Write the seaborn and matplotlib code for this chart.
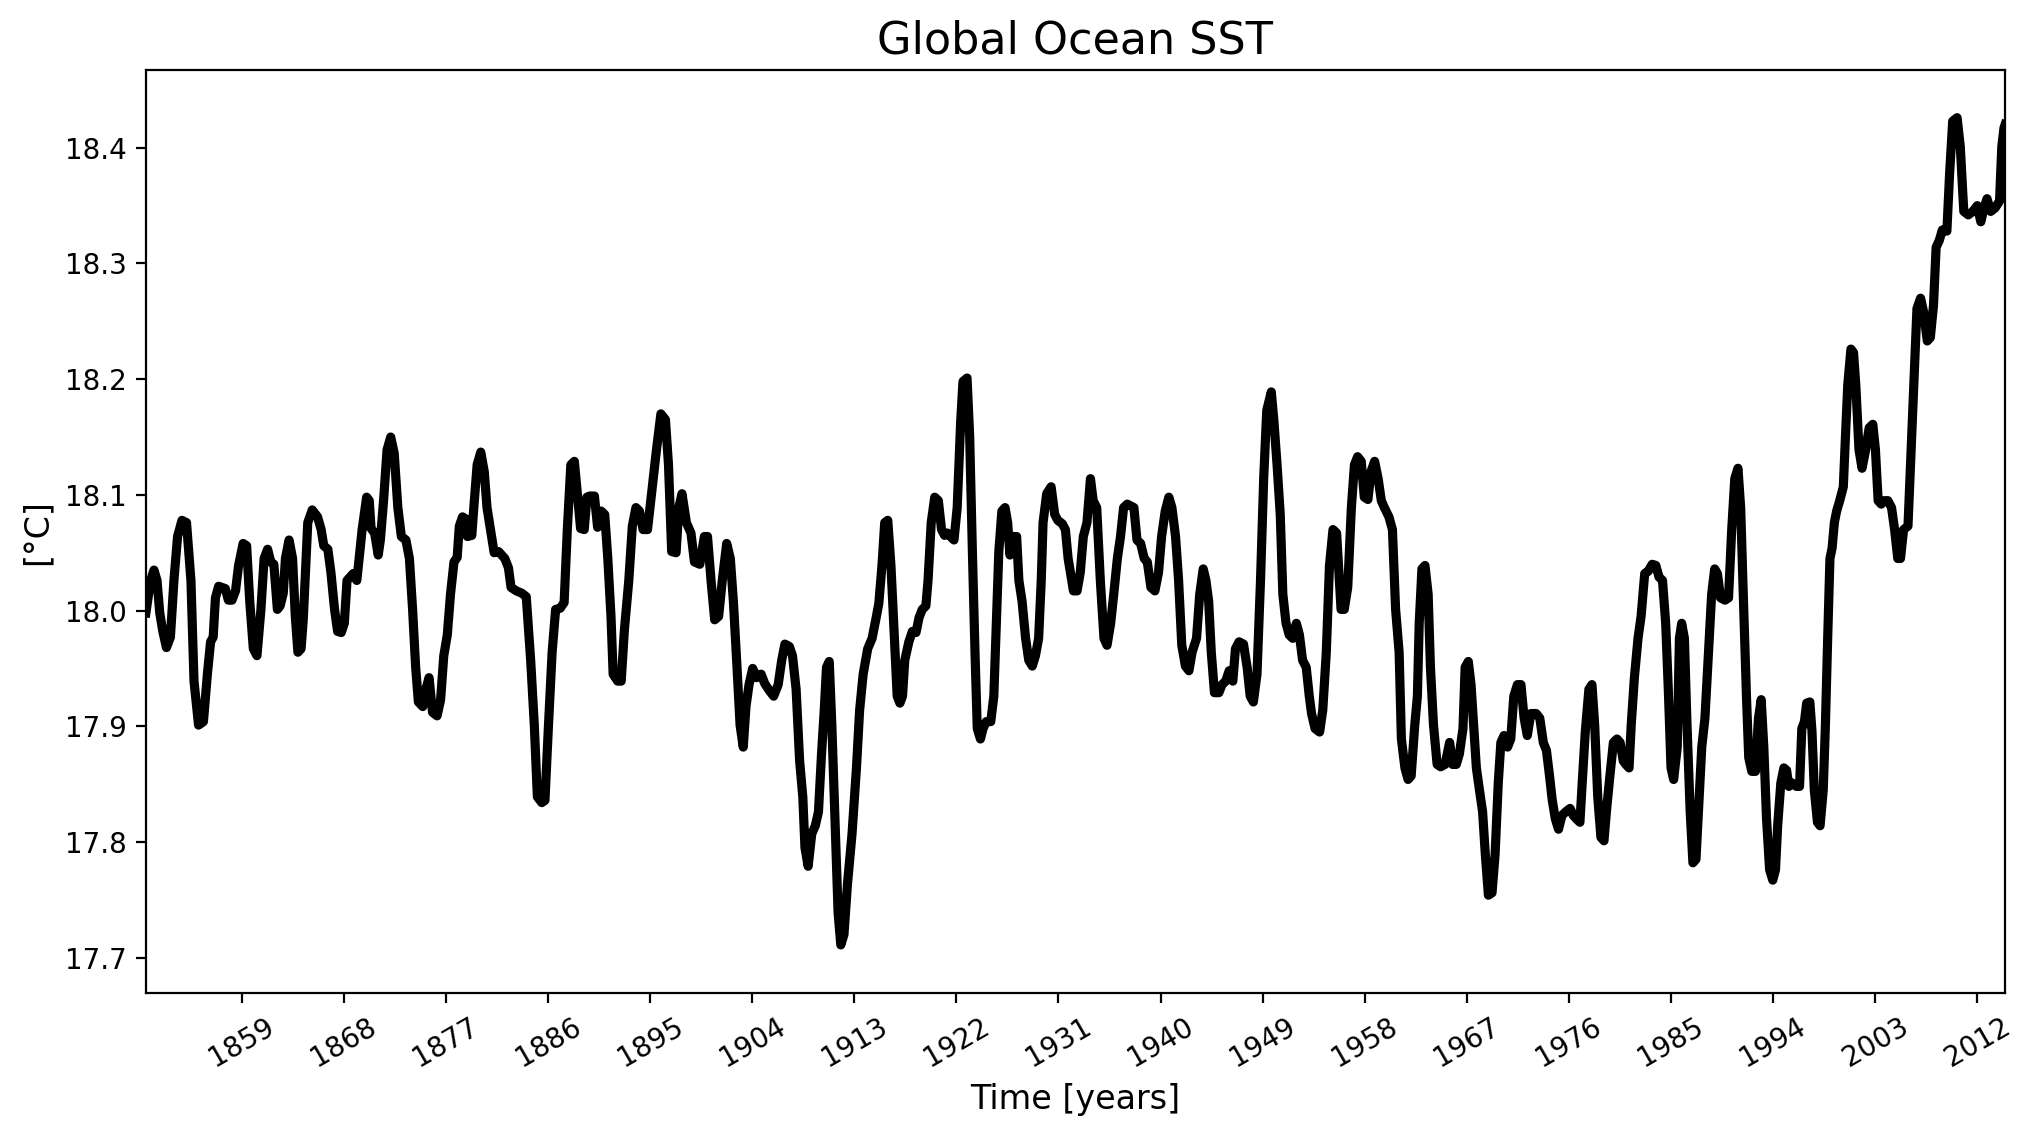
import numpy as np
import pandas as pd
import seaborn as sns
import matplotlib
matplotlib.use("Agg")
import matplotlib.pyplot as plt

# values (12-month smoothed global mean SST)
years_1850 = [1850.55, 1850.94, 1851.26, 1851.53, 1851.77, 1852.04, 1852.36, 1852.71, 1853.02, 1853.34,
              1853.73, 1854.13, 1854.52, 1854.79, 1855.19, 1855.62, 1855.97, 1856.25, 1856.48, 1856.68,
              1856.96, 1857.55, 1857.82, 1858.14, 1858.45, 1858.72, 1859.12, 1859.43, 1859.71, 1860.02,
              1860.34, 1860.69, 1860.97, 1861.28, 1861.56, 1861.83, 1862.14, 1862.38, 1862.66, 1862.85,
              1863.17, 1863.48, 1863.72, 1863.95, 1864.23, 1864.42, 1864.82, 1865.21, 1865.68, 1866.0,
              1866.23, 1866.59, 1866.86, 1867.18, 1867.45, 1867.77, 1868.04, 1868.28, 1868.55, 1868.83,
              1869.14, 1869.38, 1869.61, 1870.01, 1870.24, 1870.4, 1870.71, 1871.03, 1871.22, 1871.5,
              1871.81, 1872.13, 1872.44, 1872.76, 1873.07, 1873.47, 1873.78, 1874.06, 1874.33, 1874.57,
              1874.96, 1875.23, 1875.51, 1875.82, 1876.22, 1876.53, 1876.81, 1877.12, 1877.4, 1877.71,
              1877.99, 1878.18, 1878.46, 1878.77, 1878.89, 1879.28, 1879.48, 1879.75, 1880.07, 1880.38,
              1880.62, 1880.93, 1881.25, 1881.64, 1881.92, 1882.19, 1882.51, 1882.74, 1883.21, 1883.69,
              1884.08, 1884.47, 1884.79, 1885.06, 1885.45, 1885.73, 1886.04, 1886.36, 1886.67, 1887.07,
              1887.42, 1887.7, 1888.01, 1888.32, 1888.64, 1888.87, 1889.19, 1889.43, 1889.66, 1890.09,
              1890.37, 1890.68, 1891.0, 1891.27, 1891.55, 1891.74, 1892.14, 1892.45, 1892.73, 1893.12,
              1893.43, 1893.75, 1894.06, 1894.38, 1894.77]
sst_1850 = [17.998, 18.025, 18.035, 18.026, 17.998, 17.982, 17.968, 17.977, 18.026, 18.064,
            18.078, 18.076, 18.026, 17.939, 17.901, 17.904, 17.945, 17.973, 17.977, 18.011,
            18.021, 18.019, 18.009, 18.009, 18.017, 18.039, 18.058, 18.056, 18.007, 17.967,
            17.961, 18.001, 18.045, 18.053, 18.042, 18.040, 18.001, 18.004, 18.015, 18.045,
            18.061, 18.045, 17.995, 17.964, 17.967, 17.992, 18.076, 18.087, 18.081, 18.070,
            18.056, 18.053, 18.033, 18.001, 17.982, 17.981, 17.989, 18.026, 18.029, 18.032,
            18.026, 18.048, 18.070, 18.098, 18.095, 18.071, 18.067, 18.048, 18.061, 18.095,
            18.139, 18.150, 18.136, 18.089, 18.064, 18.061, 18.045, 18.001, 17.951, 17.921,
            17.917, 17.932, 17.942, 17.912, 17.909, 17.923, 17.961, 17.979, 18.014, 18.042,
            18.046, 18.073, 18.081, 18.079, 18.064, 18.065, 18.092, 18.126, 18.137, 18.120,
            18.089, 18.070, 18.050, 18.051, 18.048, 18.045, 18.037, 18.020, 18.017, 18.015,
            18.012, 17.957, 17.901, 17.839, 17.834, 17.836, 17.901, 17.964, 18.001, 18.002,
            18.007, 18.070, 18.126, 18.129, 18.095, 18.071, 18.070, 18.098, 18.099, 18.099,
            18.072, 18.086, 18.083, 18.045, 17.995, 17.945, 17.939, 17.939, 17.983, 18.026,
            18.073, 18.089, 18.086, 18.070, 18.070]

years_1895 = [1895.56, 1895.95, 1896.35, 1896.62, 1896.9, 1897.29, 1897.53, 1897.81, 1898.2, 1898.6,
              1898.91, 1899.38, 1899.78, 1900.06, 1900.37, 1900.69, 1901.04, 1901.36, 1901.75, 1902.07,
              1902.34, 1902.66, 1902.93, 1903.21, 1903.45, 1903.72, 1904.04, 1904.39, 1904.79, 1905.1,
              1905.5, 1905.89, 1906.29, 1906.6, 1906.88, 1907.27, 1907.55, 1907.87, 1908.18, 1908.46,
              1908.65, 1908.93, 1909.25, 1909.56, 1909.84, 1910.11, 1910.35, 1910.55, 1910.79, 1911.02,
              1911.34, 1911.57, 1911.81, 1912.09, 1912.4, 1912.8, 1913.19, 1913.47, 1913.78, 1914.18,
              1914.57, 1914.89, 1915.16, 1915.44, 1915.68, 1915.95, 1916.23, 1916.54, 1916.78, 1917.02,
              1917.25, 1917.45, 1917.81, 1918.12, 1918.44, 1918.71, 1918.99, 1919.31, 1919.5, 1919.78,
              1920.09, 1920.41, 1920.69, 1920.96, 1921.2, 1921.48, 1921.79, 1922.07, 1922.38, 1922.58,
              1922.94, 1923.17, 1923.41, 1923.64, 1923.84, 1924.12, 1924.35, 1924.63, 1925.03, 1925.3,
              1925.54, 1925.74, 1926.01, 1926.29, 1926.52, 1926.72, 1927.0, 1927.31, 1927.51, 1927.79,
              1928.1, 1928.38, 1928.69, 1928.97, 1929.25, 1929.48, 1929.64, 1929.96, 1930.35, 1930.67,
              1930.94, 1931.34, 1931.61, 1931.85, 1932.05, 1932.32, 1932.64, 1932.92, 1933.19, 1933.51,
              1933.82, 1934.06, 1934.37, 1934.69, 1935.01, 1935.28, 1935.6, 1935.87, 1936.19, 1936.47,
              1936.74, 1937.06, 1937.65, 1937.92, 1938.24, 1938.56, 1938.83, 1939.15, 1939.5, 1939.82,
              1940.09, 1940.41, 1940.73, 1941.0, 1941.32, 1941.59, 1941.87, 1942.19, 1942.5, 1942.78,
              1943.17, 1943.45, 1943.76, 1944.0, 1944.24, 1944.47, 1944.75, 1945.14, 1945.42, 1945.74,
              1946.05, 1946.37, 1946.6, 1946.92, 1947.31, 1947.63, 1947.9, 1948.18, 1948.5, 1948.81,
              1949.09, 1949.36, 1949.76, 1949.99, 1950.27, 1950.55, 1950.78, 1951.06, 1951.34, 1951.65,
              1951.97, 1952.24, 1952.52, 1952.84, 1953.11, 1953.31, 1953.62, 1954.02, 1954.3, 1954.61,
              1954.89, 1955.2, 1955.52]
sst_1895 = [18.139, 18.170, 18.165, 18.126, 18.051, 18.050, 18.089, 18.101, 18.076, 18.067,
            18.042, 18.040, 18.064, 18.064, 18.026, 17.992, 17.995, 18.026, 18.058, 18.045,
            18.008, 17.951, 17.901, 17.882, 17.917, 17.936, 17.950, 17.942, 17.945, 17.937,
            17.931, 17.926, 17.936, 17.957, 17.971, 17.969, 17.961, 17.932, 17.870, 17.839,
            17.795, 17.779, 17.807, 17.814, 17.826, 17.876, 17.914, 17.951, 17.956, 17.901,
            17.807, 17.739, 17.711, 17.720, 17.764, 17.807, 17.864, 17.914, 17.945, 17.967,
            17.976, 17.992, 18.006, 18.039, 18.076, 18.078, 18.039, 17.976, 17.926, 17.920,
            17.926, 17.957, 17.973, 17.982, 17.981, 17.994, 18.001, 18.004, 18.026, 18.076,
            18.098, 18.095, 18.070, 18.065, 18.067, 18.064, 18.061, 18.089, 18.164, 18.198,
            18.201, 18.151, 18.051, 17.964, 17.898, 17.889, 17.898, 17.904, 17.904, 17.926,
            17.995, 18.051, 18.086, 18.089, 18.076, 18.048, 18.064, 18.064, 18.026, 18.008,
            17.976, 17.957, 17.952, 17.961, 17.976, 18.026, 18.076, 18.101, 18.107, 18.083,
            18.078, 18.075, 18.070, 18.045, 18.033, 18.017, 18.017, 18.033, 18.064, 18.076,
            18.114, 18.095, 18.089, 18.026, 17.976, 17.970, 17.989, 18.014, 18.045, 18.064,
            18.089, 18.092, 18.089, 18.061, 18.058, 18.045, 18.042, 18.020, 18.017, 18.033,
            18.064, 18.086, 18.098, 18.089, 18.064, 18.026, 17.970, 17.952, 17.948, 17.964,
            17.976, 18.014, 18.036, 18.026, 18.008, 17.964, 17.929, 17.929, 17.936, 17.939,
            17.948, 17.939, 17.967, 17.973, 17.971, 17.951, 17.926, 17.921, 17.945, 18.026,
            18.114, 18.173, 18.189, 18.164, 18.126, 18.083, 18.014, 17.989, 17.979, 17.976,
            17.989, 17.979, 17.957, 17.951, 17.926, 17.911, 17.898, 17.895, 17.914, 17.964,
            18.039, 18.070, 18.067]

years_1956 = [1955.91, 1956.19, 1956.5, 1956.82, 1957.09, 1957.37, 1957.69, 1957.96, 1958.28, 1958.55,
              1958.87, 1959.18, 1959.46, 1959.73, 1960.13, 1960.44, 1960.72, 1961.03, 1961.23, 1961.54,
              1961.82, 1962.09, 1962.41, 1962.64, 1962.8, 1963.04, 1963.31, 1963.59, 1963.79, 1964.06,
              1964.38, 1964.69, 1965.08, 1965.48, 1965.75, 1966.07, 1966.34, 1966.66, 1966.85, 1967.13,
              1967.37, 1967.6, 1967.84, 1968.11, 1968.39, 1968.63, 1968.9, 1969.22, 1969.49, 1969.77,
              1970.0, 1970.28, 1970.59, 1970.87, 1971.14, 1971.46, 1971.77, 1972.05, 1972.33, 1972.64,
              1973.11, 1973.43, 1973.74, 1974.02, 1974.29, 1974.53, 1974.8, 1975.08, 1975.39, 1975.71,
              1976.1, 1976.38, 1976.65, 1976.97, 1977.17, 1977.44, 1977.76, 1978.03, 1978.27, 1978.54,
              1978.82, 1979.09, 1979.33, 1979.61, 1979.92, 1980.24, 1980.51, 1980.79, 1981.02, 1981.3,
              1981.49, 1981.77, 1982.09, 1982.36, 1982.68, 1982.99, 1983.34, 1983.66, 1983.94, 1984.25,
              1984.53, 1984.76, 1985.0, 1985.23, 1985.55, 1985.74, 1985.94, 1986.18, 1986.41, 1986.69,
              1986.93, 1987.2, 1987.48, 1987.71, 1987.99, 1988.3, 1988.58, 1988.85, 1989.09, 1989.37,
              1989.76, 1990.07, 1990.35, 1990.62, 1990.9, 1991.14, 1991.41, 1991.65, 1991.85, 1992.12,
              1992.44, 1992.71, 1992.95, 1993.18, 1993.42, 1993.69, 1993.97, 1994.21, 1994.4, 1994.68,
              1994.95, 1995.19, 1995.39, 1995.66, 1996.06, 1996.33, 1996.53, 1996.76, 1996.96, 1997.24,
              1997.43, 1997.63, 1997.91, 1998.14, 1998.42, 1998.61, 1998.81, 1999.01, 1999.2, 1999.4,
              1999.6, 1999.87, 2000.19, 2000.38, 2000.58, 2000.86, 2001.09, 2001.29, 2001.57, 2001.84,
              2002.16, 2002.47, 2002.79, 2003.02, 2003.26, 2003.53, 2003.81, 2004.12, 2004.44, 2004.71,
              2004.99, 2005.23, 2005.5, 2005.89, 2006.17, 2006.41, 2006.68, 2007.0, 2007.27, 2007.59,
              2007.86, 2008.14, 2008.37, 2008.65, 2008.92, 2009.32, 2009.55, 2009.83, 2010.22, 2010.5,
              2010.81, 2011.21, 2011.6, 2012.0, 2012.31, 2012.59, 2012.86, 2013.18, 2013.57, 2013.96,
              2014.16, 2014.35, 2014.45]
sst_1956 = [18.001, 18.001, 18.020, 18.089, 18.126, 18.133, 18.129, 18.098, 18.096, 18.120,
            18.129, 18.114, 18.095, 18.089, 18.081, 18.070, 18.001, 17.964, 17.889, 17.864,
            17.854, 17.857, 17.901, 17.926, 17.989, 18.036, 18.039, 18.014, 17.951, 17.901,
            17.867, 17.865, 17.867, 17.886, 17.867, 17.867, 17.876, 17.898, 17.951, 17.956,
            17.936, 17.901, 17.864, 17.845, 17.826, 17.789, 17.754, 17.756, 17.789, 17.851,
            17.886, 17.892, 17.882, 17.889, 17.926, 17.936, 17.936, 17.907, 17.892, 17.911,
            17.911, 17.907, 17.886, 17.879, 17.857, 17.836, 17.820, 17.811, 17.823, 17.826,
            17.829, 17.823, 17.820, 17.817, 17.851, 17.895, 17.932, 17.936, 17.901, 17.839,
            17.804, 17.801, 17.829, 17.857, 17.886, 17.889, 17.886, 17.870, 17.867, 17.864,
            17.901, 17.942, 17.976, 17.995, 18.032, 18.034, 18.040, 18.039, 18.029, 18.026,
            17.989, 17.932, 17.864, 17.854, 17.882, 17.976, 17.989, 17.976, 17.901, 17.826,
            17.782, 17.785, 17.839, 17.882, 17.907, 17.964, 18.014, 18.036, 18.032, 18.011,
            18.009, 18.011, 18.070, 18.114, 18.123, 18.089, 18.001, 17.926, 17.873, 17.861,
            17.861, 17.907, 17.923, 17.882, 17.820, 17.776, 17.767, 17.776, 17.814, 17.851,
            17.864, 17.862, 17.848, 17.851, 17.848, 17.848, 17.898, 17.904, 17.920, 17.921,
            17.895, 17.845, 17.817, 17.814, 17.845, 17.901, 17.976, 18.045, 18.054, 18.076,
            18.086, 18.095, 18.107, 18.151, 18.195, 18.226, 18.223, 18.195, 18.139, 18.123,
            18.139, 18.158, 18.161, 18.139, 18.095, 18.092, 18.095, 18.095, 18.089, 18.070,
            18.045, 18.045, 18.070, 18.073, 18.139, 18.195, 18.261, 18.270, 18.258, 18.233,
            18.236, 18.264, 18.314, 18.320, 18.329, 18.328, 18.376, 18.423, 18.426, 18.401,
            18.345, 18.342, 18.345, 18.350, 18.336, 18.348, 18.356, 18.345, 18.348, 18.354,
            18.401, 18.417, 18.420]

year_ticks = list(range(1859, 2013, 9))

df = pd.DataFrame({
    "time": years_1850 + years_1895 + years_1956,
    "sst": sst_1850 + sst_1895 + sst_1956,
})

fig = plt.figure(figsize=(2035 / 200, 1137 / 200), dpi=200)
ax = fig.add_axes([0.0717, 0.1267, 0.9136, 0.8115])

sns.lineplot(data=df, x="time", y="sst", color="black", linewidth=3.3, ax=ax)

ax.set_xlim(1850.55, 2014.45)
ax.set_ylim(17.6695, 18.467)
ax.set_xticks(year_ticks)
ax.set_xticklabels([str(y) for y in year_ticks], rotation=30, fontsize=10)
ax.tick_params(axis="y", labelsize=10)

ax.set_title("Global Ocean SST", fontsize=16)
ax.set_xlabel("Time [years]", fontsize=12)
ax.set_ylabel("[°C]", fontsize=12)

fig.savefig("out.png", dpi=200)
plt.close(fig)
